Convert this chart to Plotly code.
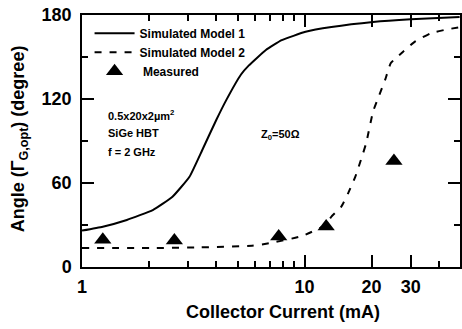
import numpy as np
import plotly.graph_objects as go

# Collector current (mA) and optimum source-reflection angle (degree)
model1_current = [1.0, 1.24, 1.59, 2.08, 2.55, 3.04, 3.47, 4.01, 4.44, 5.18, 5.62,
                  6.70, 7.89, 10.1, 13.2, 20.3, 30.0, 49.7]
model1_angle = [26.0, 28.8, 33.6, 40.7, 50.2, 64.5, 83.6, 105.0, 119.0, 137.5, 144.0,
                155.0, 162.0, 168.0, 171.4, 175.0, 176.9, 178.5]

model2_current = [1.0, 2.01, 3.36, 5.80, 6.90, 9.69, 12.4, 13.2, 14.6, 15.7, 16.9,
                  17.9, 18.9, 20.3, 21.8, 23.0, 24.4, 27.7, 31.3, 36.9, 43.9, 49.7]
model2_angle = [13.6, 13.5, 14.0, 15.2, 16.9, 22.0, 30.0, 36.0, 43.0, 52.8, 64.5,
                76.4, 88.4, 111.0, 124.0, 133.6, 145.7, 153.8, 161.0, 167.0, 169.8, 171.2]

measured_current = [1.24, 2.60, 7.65, 12.5, 25.2]
measured_angle = [19.5, 19.0, 21.8, 29.0, 75.7]

x_tick_vals = [1, 10, 20, 30]
x_tick_text = ["1", "10", "20", "30"]
x_minor_vals = [2, 3, 4, 5, 6, 7, 8, 9, 40]
y_tick_vals = [0, 60, 120, 180]
y_minor_vals = [30, 90, 150]

FONT = "Liberation Sans, Arial, Helvetica, sans-serif"

# figure geometry (pixels)
W, H = 462, 329
L, R, T, B = 82, 0, 15, 62
PW, PH = W - L - R, H - T - B


def label(text, px, py, size, xanchor="left", angle=0):
    """Text placed by pixel position in the figure."""
    return dict(
        text=text, xref="paper", yref="paper",
        x=(px - L) / PW, y=(H - B - py) / PH,
        xanchor=xanchor, yanchor="middle", textangle=angle, showarrow=False,
        font=dict(family=FONT, size=size, color="black", weight="bold"),
    )


fig = go.Figure()
fig.add_trace(go.Scatter(
    x=model1_current, y=model1_angle, mode="lines", name="Simulated Model 1",
    line=dict(color="black", width=2, shape="spline", smoothing=0.4),
))
fig.add_trace(go.Scatter(
    x=model2_current, y=model2_angle, mode="lines", name="Simulated Model 2",
    line=dict(color="black", width=2, dash="7px,8px", shape="spline", smoothing=0.4),
))
fig.add_trace(go.Scatter(
    x=measured_current, y=measured_angle, mode="markers", name=" Measured",
    marker=dict(symbol="triangle-up", size=15, color="black"),
))

axis_common = dict(
    showline=True, linecolor="black", linewidth=1.5, mirror="allticks",
    ticks="inside", ticklen=12, tickwidth=1.5, tickcolor="black",
    showgrid=False, zeroline=False,
    tickfont=dict(family=FONT, size=18, color="black", weight="bold"),
)
minor_common = dict(ticks="inside", ticklen=6, tickwidth=1.5, tickcolor="black",
                    showgrid=False)

fig.update_xaxes(
    type="log", range=[0, np.log10(49.9)],
    tickvals=x_tick_vals, ticktext=x_tick_text,
    minor=dict(tickvals=x_minor_vals, **minor_common),
    ticklabelstandoff=3,
    **axis_common,
)
fig.update_yaxes(
    range=[0, 180], tickvals=y_tick_vals,
    minor=dict(tickvals=y_minor_vals, **minor_common),
    ticklabelstandoff=5,
    **axis_common,
)

fig.update_layout(
    width=W, height=H,
    margin=dict(l=L, r=R, t=T, b=B),
    paper_bgcolor="white", plot_bgcolor="white",
    showlegend=True,
    legend=dict(
        x=0.02, y=0.985, xanchor="left", yanchor="top",
        bgcolor="rgba(0,0,0,0)", borderwidth=0, itemwidth=40,
        font=dict(family=FONT, size=12, color="black", weight="bold"),
    ),
    annotations=[
        label("0.5x20x2\u00b5m<sup>2</sup>", 106, 115, 11),
        label("SiGe HBT", 106, 133, 11),
        label("f = 2 GHz", 106, 152, 11),
        label("Z<sub>0</sub>=50\u03a9", 260, 135, 11),
        label("Collector Current (mA)", 284, 312, 18, xanchor="center"),
        label("Angle (\u0393<sub>G,opt</sub>) (degree)", 19, 139, 18,
              xanchor="center", angle=-90),
    ],
)

fig.write_html("out.html")
